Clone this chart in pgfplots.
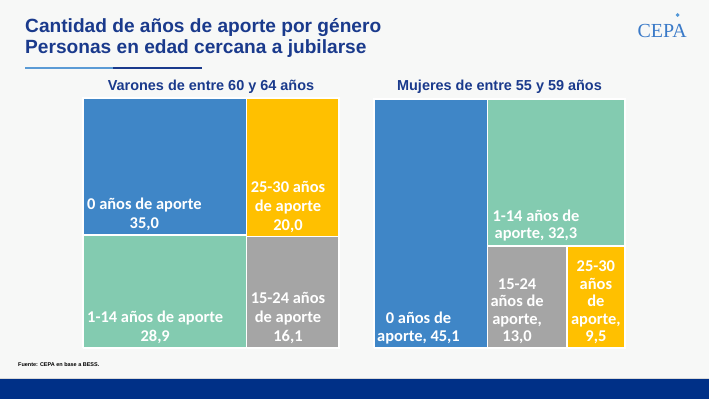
\documentclass[border=0pt]{standalone}
\usepackage{pgfplots}
\pgfplotsset{compat=1.18}
\usepackage{fontspec}
\setmainfont{Liberation Sans}
\newfontfamily\carlito{Carlito}
\newfontfamily\cepafont{Liberation Serif}
\definecolor{bg}{HTML}{F7F8F7}
\definecolor{navy}{HTML}{1A3A8C}
\definecolor{band}{HTML}{003087}
\definecolor{cblue}{HTML}{3F86C7}
\definecolor{cgreen}{HTML}{83CBB0}
\definecolor{cyellow}{HTML}{FFC000}
\definecolor{cgray}{HTML}{A5A5A5}
\definecolor{lblue}{HTML}{5B9BD5}
\definecolor{logo}{HTML}{3A7AC8}
\begin{document}
\begin{tikzpicture}
\begin{scope}[x=1bp,y=1bp]
\useasboundingbox (0,0) rectangle (709,399);
\fill[bg] (0,0) rectangle (709,399);
\fill[band] (0,0) rectangle (709,20);
\draw[black!15, line width=0.8bp] (0,20.4) -- (709,20.4);
% title
\node[anchor=base west, inner sep=0, text=navy, font=\bfseries\fontsize{19.2}{21}\selectfont] at (25,366.7) {Cantidad de años de aporte por género};
\node[anchor=base west, inner sep=0, text=navy, font=\bfseries\fontsize{19.2}{21}\selectfont] at (25,345.7) {Personas en edad cercana a jubilarse};
\draw[lblue, line width=1.6bp] (25,331) -- (113,331);
\draw[navy, line width=1.6bp] (113,331) -- (202,331);
% logo
\node[anchor=base west, inner sep=0, text=logo, font=\cepafont\fontsize{20}{20}\selectfont] at (637.5,362) {CEPA};
\fill[cyan!60!blue!70] (677.5,386) -- (679.5,384) -- (677.5,382) -- (675.5,384) -- cycle;
% subtitles
\node[anchor=base, inner sep=0, text=navy, font=\bfseries\fontsize{14.5}{16}\selectfont] at (211,308.3) {Varones de entre 60 y 64 años};
\node[anchor=base, inner sep=0, text=navy, font=\bfseries\fontsize{14.5}{16}\selectfont] at (499.5,308.3) {Mujeres de entre 55 y 59 años};
% source
\node[anchor=base west, inner sep=0, text=black, font=\bfseries\fontsize{5.5}{7}\selectfont] at (18,33) {Fuente: CEPA en base a BESS.};
\end{scope}

\tikzset{lbl/.style={anchor=south west, inner sep=0, align=center, text=white, font=\carlito\bfseries\fontsize{16.5}{19}\selectfont},
  lblr/.style={lbl, font=\carlito\bfseries\fontsize{16.5}{17.5}\selectfont}}
\pgfplotsset{tm/.style={hide axis, scale only axis, clip=false, ymin=0, ymax=100, anchor=south west},
  box/.style={fill=#1, draw=white, line width=1.5bp}}

% Varones (35.0, 28.9, 20.0, 16.1)
\begin{axis}[tm, at={(83bp,51bp)}, width=256bp, height=250bp, xmin=0, xmax=100]
\addplot[box=cblue] coordinates {(0,45.23) (63.9,45.23) (63.9,100) (0,100) (0,45.23)};
\addplot[box=cgreen] coordinates {(0,0) (63.9,0) (63.9,45.23) (0,45.23) (0,0)};
\addplot[box=cyellow] coordinates {(63.9,44.60) (100,44.60) (100,100) (63.9,100) (63.9,44.60)};
\addplot[box=cgray] coordinates {(63.9,0) (100,0) (100,44.60) (63.9,44.60) (63.9,0)};
\node[lbl] at (axis cs:0,45.23) [xshift=4bp, yshift=4bp] {0 años de aporte\\35,0};
\node[lbl] at (axis cs:0,0) [xshift=4bp, yshift=4bp] {1-14 años de aporte\\28,9};
\node[lbl] at (axis cs:63.9,44.60) [xshift=4bp, yshift=4bp] {25-30 años\\de aporte\\20,0};
\node[lbl] at (axis cs:63.9,0) [xshift=4bp, yshift=4bp] {15-24 años\\de aporte\\16,1};
\end{axis}

% Mujeres (45.1, 32.3, 13.0, 9.5)
\begin{axis}[tm, at={(374bp,51bp)}, width=251bp, height=249bp, xmin=0, xmax=99.9]
\addplot[box=cblue] coordinates {(0,0) (45.1,0) (45.1,100) (0,100) (0,0)};
\addplot[box=cgreen] coordinates {(45.1,41.06) (99.9,41.06) (99.9,100) (45.1,100) (45.1,41.06)};
\addplot[box=cgray] coordinates {(45.1,0) (76.76,0) (76.76,41.06) (45.1,41.06) (45.1,0)};
\addplot[box=cyellow] coordinates {(76.76,0) (99.9,0) (99.9,41.06) (76.76,41.06) (76.76,0)};
\node[lblr] at (axis cs:0,0) [xshift=3bp, yshift=4bp] {0 años de\\aporte, 45,1};
\node[lblr] at (axis cs:45.1,41.06) [xshift=5bp, yshift=4bp] {1-14 años de\\aporte, 32,3};
\node[lblr] at (axis cs:45.1,0) [xshift=3bp, yshift=4bp] {15-24\\años de\\aporte,\\13,0};
\node[lblr] at (axis cs:76.76,0) [xshift=4bp, yshift=4bp] {25-30\\años\\de\\aporte,\\9,5};
\end{axis}
\end{tikzpicture}
\end{document}
